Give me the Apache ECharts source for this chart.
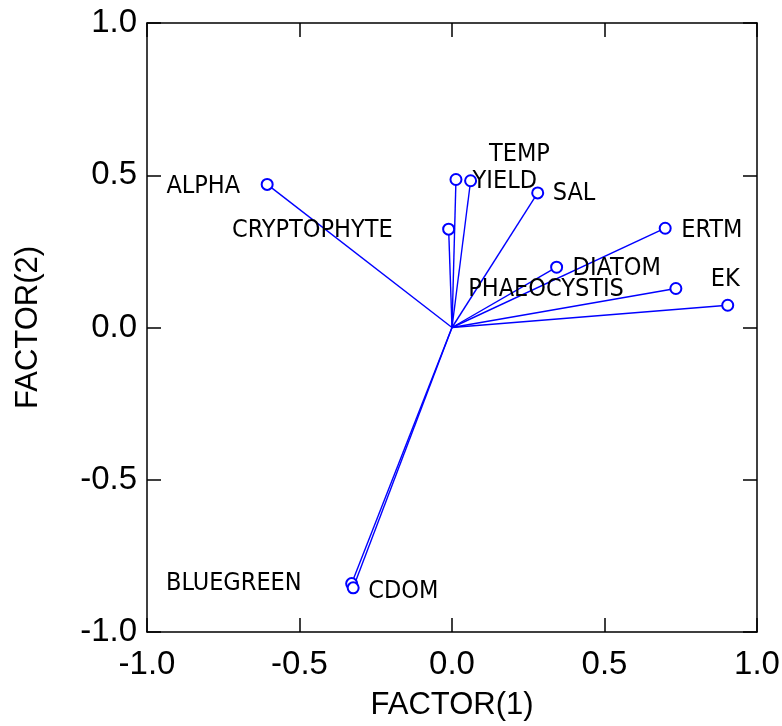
<!DOCTYPE html>
<html>
<head>
<meta charset="utf-8">
<script src="https://cdn.jsdelivr.net/npm/echarts@6/dist/echarts.min.js"></script>
<style>
html,body{margin:0;padding:0;background:#fff;}
#chart{width:782px;height:726px;}
</style>
</head>
<body>
<div id="chart"></div>
<script>
// ---- data ----
var variables = ['ALPHA','CRYPTOPHYTE','TEMP','YIELD','SAL','ERTM','DIATOM','PHAEOCYSTIS','EK','BLUEGREEN','CDOM'];
var factor1 = [-0.606, -0.011, 0.013, 0.061, 0.281, 0.699, 0.343, 0.734, 0.904, -0.329, -0.324];
var factor2 = [0.470, 0.323, 0.486, 0.482, 0.442, 0.326, 0.198, 0.128, 0.073, -0.841, -0.855];
var axisTicks = [-1.0, -0.5, 0.0, 0.5, 1.0];
var xTitle = 'FACTOR(1)';
var yTitle = 'FACTOR(2)';

// ---- label layout (presentation only) ----
var labelLayout = {
  'ALPHA':       {align:'right', off:[-27, 2]},
  'CRYPTOPHYTE': {align:'right', off:[-56, 1]},
  'TEMP':        {align:'left',  off:[33, -25]},
  'YIELD':       {align:'left',  off:[2, 1]},
  'SAL':         {align:'left',  off:[15, 1]},
  'ERTM':        {align:'left',  off:[16, 2]},
  'DIATOM':      {align:'left',  off:[16, 1]},
  'PHAEOCYSTIS': {align:'right', off:[-52, 1]},
  'EK':          {align:'right', off:[12, -26]},
  'BLUEGREEN':   {align:'right', off:[-50, 0]},
  'CDOM':        {align:'left',  off:[15, 4]}
};

var BLUE = '#0000FF';
var labelFont = '"DejaVu Sans Condensed", "Liberation Sans", sans-serif';
var mainFont = '"Liberation Sans", Arial, sans-serif';

var tickMin = axisTicks[0], tickMax = axisTicks[axisTicks.length-1];
var tickStep = axisTicks[1] - axisTicks[0];

var lineData = variables.map(function(n, i){
  return {coords: [[0, 0], [factor1[i], factor2[i]]]};
});
var pointData = variables.map(function(n, i){
  var L = labelLayout[n];
  return {
    name: n,
    value: [factor1[i], factor2[i]],
    label: {align: L.align, offset: L.off}
  };
});

function axisBase(pos, showLabel){
  return {
    type: 'value',
    position: pos,
    min: tickMin, max: tickMax, interval: tickStep,
    axisLine: {show: true, onZero: false, lineStyle: {color: '#000', width: 1.5}},
    axisTick: {show: true, inside: true, length: 14, lineStyle: {color: '#000', width: 1.5}},
    splitLine: {show: false},
    axisLabel: {
      show: showLabel,
      color: '#000',
      fontFamily: mainFont,
      fontSize: 33,
      margin: (pos === 'bottom') ? 16 : 10,
      formatter: function(v){ return v.toFixed(1); }
    }
  };
}

var xBottom = axisBase('bottom', true);
xBottom.name = xTitle;
xBottom.nameLocation = 'middle';
xBottom.nameGap = 58;
xBottom.nameTextStyle = {color:'#000', fontFamily: mainFont, fontSize: 31};
var xTop = axisBase('top', false);
var yLeft = axisBase('left', true);
yLeft.name = yTitle;
yLeft.nameLocation = 'middle';
yLeft.nameGap = 103;
yLeft.nameRotate = 90;
yLeft.nameTextStyle = {color:'#000', fontFamily: mainFont, fontSize: 31};
var yRight = axisBase('right', false);

var chart = echarts.init(document.getElementById('chart'), null, {renderer: 'canvas'});
chart.setOption({
  animation: false,
  backgroundColor: '#fff',
  grid: {left: 147, right: 25, top: 23, bottom: 94, containLabel: false, outerBoundsMode: 'none'},
  xAxis: [xBottom, xTop],
  yAxis: [yLeft, yRight],
  series: [
    {
      type: 'lines',
      coordinateSystem: 'cartesian2d',
      xAxisIndex: 0, yAxisIndex: 0,
      data: lineData,
      lineStyle: {color: BLUE, width: 1.4, opacity: 1},
      symbol: 'none',
      z: 2
    },
    {
      type: 'scatter',
      xAxisIndex: 0, yAxisIndex: 0,
      data: pointData,
      symbol: 'emptyCircle',
      symbolSize: 11,
      itemStyle: {color: BLUE, borderColor: BLUE, borderWidth: 1.2, opacity: 1},
      label: {
        show: true,
        position: 'inside',
        verticalAlign: 'middle',
        color: '#000',
        textBorderWidth: 0,
        fontFamily: labelFont,
        fontSize: 25,
        formatter: function(p){ return p.name; }
      },
      z: 3
    }
  ]
});
</script>
</body>
</html>
